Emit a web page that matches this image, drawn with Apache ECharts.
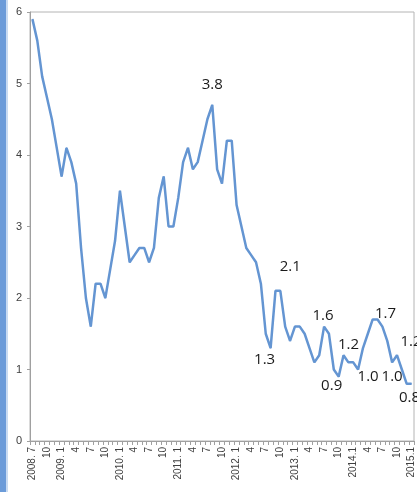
<!DOCTYPE html>
<html>
<head>
<meta charset="utf-8">
<script src="https://cdn.jsdelivr.net/npm/echarts@6/dist/echarts.min.js"></script>
<style>
    html, body { margin: 0; padding: 0; background: #fff; }
    #chart { width: 417px; height: 492px; }
</style>
</head>
<body>
<div id="chart"></div>
<script>
// monthly values, 2008.7 .. 2015.1
var values = [
    5.9, 5.6, 5.1, 4.8, 4.5, 4.1,                          // 2008.7 - 12
    3.7, 4.1, 3.9, 3.6, 2.7, 2.0, 1.6, 2.2, 2.2, 2.0, 2.4, 2.8, // 2009
    3.5, 3.0, 2.5, 2.6, 2.7, 2.7, 2.5, 2.7, 3.4, 3.7, 3.0, 3.0, // 2010
    3.4, 3.9, 4.1, 3.8, 3.9, 4.2, 4.5, 4.7, 3.8, 3.6, 4.2, 4.2, // 2011
    3.3, 3.0, 2.7, 2.6, 2.5, 2.2, 1.5, 1.3, 2.1, 2.1, 1.6, 1.4, // 2012
    1.6, 1.6, 1.5, 1.3, 1.1, 1.2, 1.6, 1.5, 1.0, 0.9, 1.2, 1.1, // 2013
    1.1, 1.0, 1.3, 1.5, 1.7, 1.7, 1.6, 1.4, 1.1, 1.2, 1.0, 0.8, // 2014
    0.8                                                     // 2015.1
];

// tick labels shown every third month
var yearLabels = {0: '2008. 7', 6: '2009. 1', 18: '2010. 1', 30: '2011. 1', 42: '2012. 1', 54: '2013. 1', 66: '2014.1', 78: '2015.1'};
var monthLabels = ['1', '2', '3', '4', '5', '6', '7', '8', '9', '10', '11', '12'];

// annotated points and their texts
var noteIndex = [37, 51, 49, 60, 63, 64, 67, 74, 71, 75, 78];
var noteText  = ['3.8', '2.1', '1.3', '1.6', '0.9', '1.2', '1.0', '1.0', '1.7', '1.2', '0.8'];

var yTicks = [0, 1, 2, 3, 4, 5, 6];

// label offsets from the point (layout only)
var noteOffset = [[0, -20], [10, -24], [-6, 12], [-1, -11], [-7, 9], [5, -10], [10, 7], [0, 14], [8, -6], [14, -13], [-2, 14]];

var categories = [];
for (var i = 0; i < values.length; i++) {
    var m = (6 + i) % 12;
    categories.push(yearLabels[i] || monthLabels[m]);
}

var seriesData = values.map(function (v, i) {
    var k = noteIndex.indexOf(i);
    if (k < 0) return v;
    return {
        value: v,
        label: {
            show: true,
            position: 'inside',
            offset: noteOffset[k],
            formatter: noteText[k]
        }
    };
});

var chart = echarts.init(document.getElementById('chart'));
chart.setOption({
    animation: false,
    backgroundColor: '#fff',
    grid: {
        left: 30, right: 3, top: 12, bottom: 51,
        show: true, borderColor: '#b4b4b4', borderWidth: 1
    },
    graphic: [
        { type: 'rect', shape: { x: 0, y: 0, width: 6, height: 492 }, style: { fill: '#6b9bd9' } },
        { type: 'rect', shape: { x: 6, y: 0, width: 2, height: 492 }, style: { fill: '#c9dbf2' } }
    ],
    xAxis: {
        type: 'category',
        data: categories,
        boundaryGap: true,
        axisLine: { lineStyle: { color: '#a0a0a0', width: 1 } },
        axisTick: { show: true, interval: 0, length: 4, lineStyle: { color: '#a0a0a0' } },
        axisLabel: {
            interval: 2,
            rotate: 90,
            margin: 6,
            fontSize: 10,
            color: '#404040',
            fontFamily: 'Liberation Sans'
        },
        splitLine: { show: false }
    },
    yAxis: {
        type: 'value',
        min: yTicks[0],
        max: yTicks[yTicks.length - 1],
        interval: 1,
        axisLine: { show: true, lineStyle: { color: '#a0a0a0', width: 1 } },
        axisTick: { show: true, length: 3, lineStyle: { color: '#a0a0a0' } },
        axisLabel: { margin: 8, fontSize: 11, color: '#404040', fontFamily: 'Liberation Sans' },
        splitLine: { show: false }
    },
    series: [{
        type: 'line',
        data: seriesData,
        symbol: 'circle',
        symbolSize: 1,
        showSymbol: true,
        itemStyle: { color: '#6495d2' },
        lineStyle: { color: '#6495d2', width: 2.5 },
        label: {
            fontSize: 15,
            color: '#1a1a1a',
            fontFamily: 'Open Sans'
        }
    }]
});
</script>
</body>
</html>
